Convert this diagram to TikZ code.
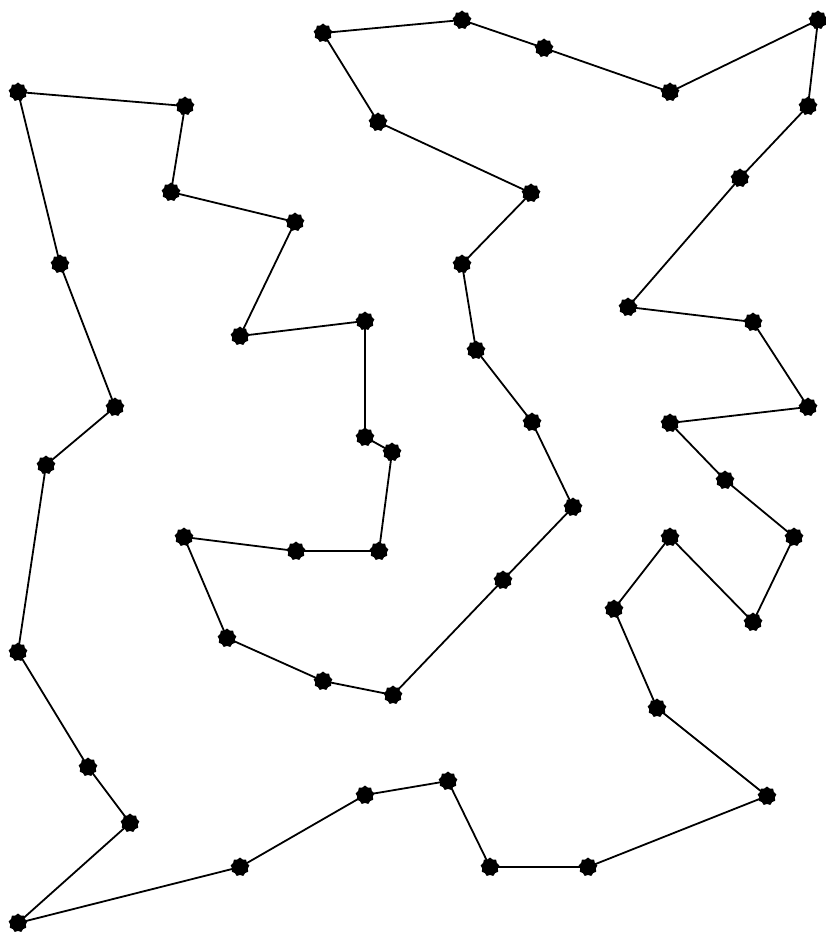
\documentclass[tikz,border=0pt]{standalone}
\usetikzlibrary{shapes.geometric}
\begin{document}
\begin{tikzpicture}[x=1pt,y=-1pt,
  mk/.style={star,star points=9,star point ratio=1.2,fill=black,draw=none,inner sep=0pt,minimum size=19pt},
  edge/.style={black,line width=1.8pt}]
\useasboundingbox[fill=white] (0,0) rectangle (825,936);
\foreach \x/\y [count=\i] in {
 18/92, 185/106, 171/192, 295/222, 240/336, 365/321, 365/437, 392/452, 379/551, 296/551,
 184/537, 227/638, 323/681, 393/695, 503/580, 573/507, 532/422, 476/350, 462/264, 531/193,
 378/122, 323/33, 462/20, 544/48, 670/92, 818/20, 808/106, 740/178, 628/307, 753/322,
 808/407, 670/423, 725/480, 794/537, 753/622, 670/537, 614/609, 657/708, 767/796, 588/867,
 490/867, 448/781, 365/795, 240/867, 18/923, 130/823, 88/767, 18/652, 46/465, 115/407,
 60/264}
  \node[mk] (p\i) at (\x,\y) {};
\foreach \i [evaluate=\i as \j using {int(mod(\i,51)+1)}] in {1,...,51}
  \draw[edge] (p\i.center) -- (p\j.center);
\end{tikzpicture}
\end{document}
